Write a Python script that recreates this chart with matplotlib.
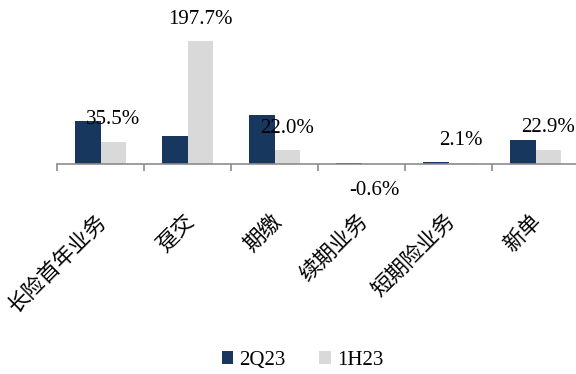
import numpy as np
import matplotlib.pyplot as plt
from matplotlib.transforms import ScaledTranslation

plt.rcParams['font.family'] = ['Liberation Serif', 'Noto Sans CJK SC', 'DejaVu Sans']

categories = ['长险首年业务', '趸交', '期缴', '续期业务', '短期险业务', '新单']
q2_23 = [69.0, 45.5, 78.0, 1.5, 3.5, 38.6]
h1_23 = [35.5, 197.7, 22.0, -0.6, 2.1, 22.9]

navy = '#17375E'
grey = '#D9D9D9'
axis_grey = '#8C8C8C'

fig = plt.figure(figsize=(5.76, 3.74), dpi=100)
ax = fig.add_axes([57 / 576, (374 - 170) / 374, 522 / 576, 160 / 374])

x = np.arange(len(categories))
w = 0.29
ax.bar(x - w / 2, q2_23, w, color=navy, label='2Q23')
bars = ax.bar(x + w / 2, h1_23, w, color=grey, label='1H23')

# value labels for 1H23
for rect, v in zip(bars, h1_23):
    xc = rect.get_x() + rect.get_width() / 2
    off = 22 * 0.72 if v >= 0 else -26 * 0.72
    ax.annotate(f'{v:.1f}%', (xc, v), xytext=(0, off), textcoords='offset points',
                ha='center', va='center', fontsize=15, color='black',
                annotation_clip=False)

ax.set_xlim(-0.5, len(categories) - 0.5)
ax.set_ylim(-6 / 0.622, 154 / 0.622)

for s in ['left', 'right', 'top']:
    ax.spines[s].set_visible(False)
ax.spines['bottom'].set_position(('data', 0))
ax.spines['bottom'].set_color(axis_grey)
ax.spines['bottom'].set_linewidth(1.2)
ax.set_yticks([])

ax.set_xticks(x)
ax.set_xticklabels(categories, rotation=45, ha='right', rotation_mode='anchor',
                   fontsize=15.5, family=['Noto Sans CJK SC'])
ax.tick_params(axis='x', which='major', length=0, pad=33)
shift = ScaledTranslation(-5 / 100, 0, fig.dpi_scale_trans)
for lbl in ax.get_xticklabels():
    lbl.set_transform(lbl.get_transform() + shift)
ax.set_xticks(np.arange(-0.5, len(categories)), minor=True)
ax.tick_params(axis='x', which='minor', length=5, width=1.2, color=axis_grey)

fig.legend(loc='center', bbox_to_anchor=(0.525, 0.036), ncol=2, frameon=False,
           fontsize=15, handlelength=0.55, handleheight=0.55, handletextpad=0.3,
           columnspacing=1.6)

fig.savefig('out.png', dpi=100)
